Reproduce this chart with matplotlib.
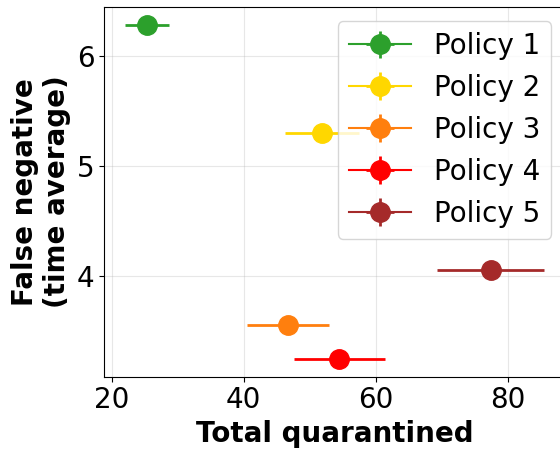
import numpy as np
import matplotlib
matplotlib.use("Agg")
import matplotlib.pyplot as plt

policies = ["Policy 1", "Policy 2", "Policy 3", "Policy 4", "Policy 5"]
colors = ["#2ca02c", "gold", "#ff7f0e", "red", "brown"]

# mean total quarantined and its spread
quarantined = [25.4, 51.8, 46.7, 54.5, 77.4]
quarantined_err = [3.35, 5.6, 6.2, 6.9, 8.1]

# mean false negatives (time average) and its spread
false_neg = [6.28, 5.30, 3.56, 3.25, 4.06]
false_neg_err = [0.01, 0.01, 0.01, 0.01, 0.01]

plt.rcParams['font.size'] = 20

fig = plt.figure(figsize=(5.6, 4.51), dpi=100)
ax = fig.add_axes([0.186, 0.165, 0.823, 0.819])

for i in range(len(policies)):
    ax.errorbar(quarantined[i], false_neg[i],
                xerr=quarantined_err[i], yerr=false_neg_err[i],
                fmt='o', color=colors[i], markersize=14, elinewidth=2,
                linestyle='-', label=policies[i])

ax.grid(alpha=0.3)
ax.set_xticks([20, 40, 60, 80])
ax.set_yticks([4, 5, 6])
ax.set_xlabel("Total quarantined", fontweight='bold')
ax.set_ylabel("False negative\n(time average)", fontweight='bold')
ax.legend(loc='upper right', handlelength=2.25)

fig.savefig("out.png", dpi=100)
